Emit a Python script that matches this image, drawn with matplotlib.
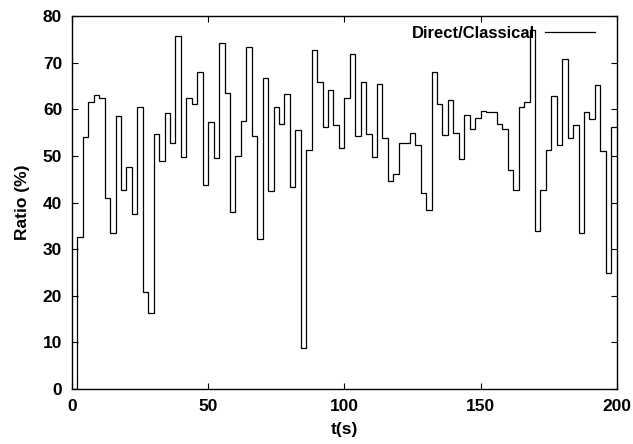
import matplotlib
matplotlib.use('Agg')
import matplotlib.pyplot as plt
import numpy as np

# Direct/Classical ratio, one value per 2 s interval
t_edges = np.arange(0, 202, 2)
ratio = [
    0.0, 32.7, 54.1, 61.6, 63.1, 62.5, 41.1, 33.4, 58.6, 42.8,
    47.7, 37.6, 60.5, 20.9, 16.4, 54.7, 48.9, 59.3, 52.9, 75.8,
    49.9, 62.5, 61.2, 68.1, 43.7, 57.3, 49.6, 74.3, 63.5, 37.9,
    50.0, 57.6, 73.5, 54.3, 32.1, 66.8, 42.5, 60.6, 56.9, 63.4,
    43.3, 55.6, 8.9, 51.4, 72.7, 65.9, 56.3, 64.1, 56.6, 51.7,
    62.5, 71.8, 54.2, 66.0, 54.8, 49.9, 65.4, 53.9, 44.6, 46.2,
    52.7, 52.9, 54.9, 52.4, 42.1, 38.4, 68.0, 61.2, 54.6, 62.1,
    54.9, 49.4, 58.9, 55.8, 58.2, 59.6, 59.5, 59.5, 56.8, 55.9,
    46.9, 42.8, 60.5, 61.5, 77.1, 33.9, 42.8, 51.2, 62.8, 52.4,
    70.9, 53.8, 56.7, 33.4, 59.4, 57.9, 65.2, 51.0, 24.8, 56.2,
]
x_ticks = [0, 50, 100, 150, 200]
y_ticks = [0, 10, 20, 30, 40, 50, 60, 70, 80]

plt.rcParams['font.family'] = ['Liberation Sans', 'DejaVu Sans']
plt.rcParams['font.weight'] = 'bold'

fig = plt.figure(figsize=(6.33, 4.44), dpi=100)
ax = fig.add_axes([0.1137, 0.1239, 0.8606, 0.8394])

ax.stairs(ratio, t_edges, baseline=None, color='black', linewidth=0.9,
          label='Direct/Classical')

ax.set_xlim(0, 200)
ax.set_ylim(0, 80)
ax.set_xticks(x_ticks)
ax.set_yticks(y_ticks)
ax.tick_params(direction='in', length=4.5, width=0.8, top=True, right=True,
               labelsize=12.5, pad=7)
for lbl in ax.get_xticklabels() + ax.get_yticklabels():
    lbl.set_fontweight('bold')
for s in ax.spines.values():
    s.set_linewidth(1.0)

ax.set_xlabel('t(s)', fontsize=12.5, fontweight='bold', labelpad=6)
ax.set_ylabel('Ratio (%)', fontsize=12.5, fontweight='bold', labelpad=9)

# key sits inside the top right corner, text before the line sample
ax.legend(loc='upper right', bbox_to_anchor=(0.973, 0.993), frameon=False,
          markerfirst=False, handlelength=3.0, handletextpad=0.6,
          borderaxespad=0, prop={'weight': 'bold', 'size': 12})

fig.savefig('out.png', dpi=100)
